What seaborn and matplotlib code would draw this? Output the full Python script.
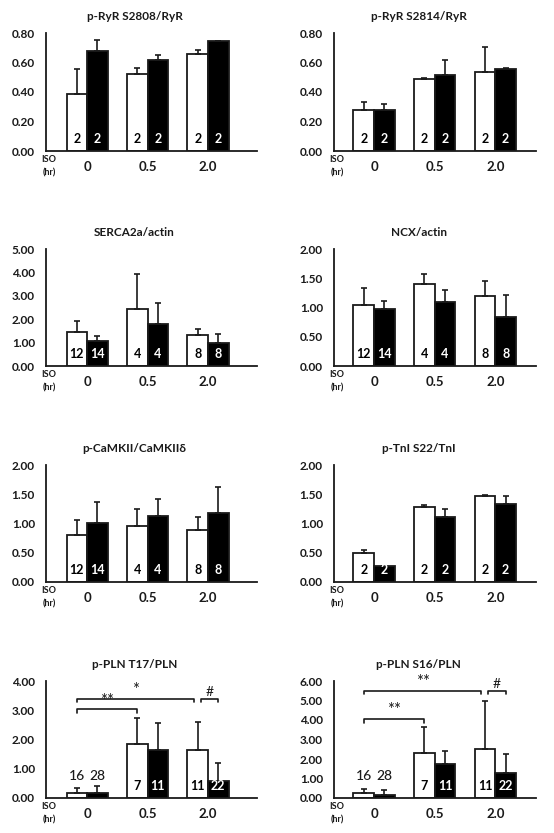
import numpy as np
import pandas as pd
import matplotlib
matplotlib.use('Agg')
import matplotlib.pyplot as plt
import seaborn as sns
from matplotlib.ticker import MultipleLocator, FormatStrFormatter

# categories
TIMES = ['0', '0.5', '2.0']
GROUPS = ['open', 'filled']

# panel data: [open bars, filled bars] per ISO time
RYR2808_MEAN = [[0.385, 0.52, 0.657], [0.68, 0.62, 0.745]]
RYR2808_ERR = [[0.17, 0.04, 0.03], [0.07, 0.03, 0.0]]
RYR2808_N = [[2, 2, 2], [2, 2, 2]]

RYR2814_MEAN = [[0.275, 0.49, 0.537], [0.275, 0.517, 0.558]]
RYR2814_ERR = [[0.055, 0.005, 0.17], [0.043, 0.10, 0.003]]
RYR2814_N = [[2, 2, 2], [2, 2, 2]]

SERCA_MEAN = [[1.44, 2.43, 1.33], [1.05, 1.79, 0.97]]
SERCA_ERR = [[0.49, 1.51, 0.26], [0.24, 0.90, 0.38]]
SERCA_N = [[12, 4, 8], [14, 4, 8]]

NCX_MEAN = [[1.04, 1.41, 1.20], [0.98, 1.10, 0.84]]
NCX_ERR = [[0.30, 0.17, 0.25], [0.13, 0.20, 0.38]]
NCX_N = [[12, 4, 8], [14, 4, 8]]

CAMKII_MEAN = [[0.795, 0.96, 0.886], [1.01, 1.125, 1.176]]
CAMKII_ERR = [[0.26, 0.29, 0.23], [0.36, 0.30, 0.45]]
CAMKII_N = [[12, 4, 8], [14, 4, 8]]

TNI_MEAN = [[0.494, 1.29, 1.47], [0.267, 1.108, 1.335]]
TNI_ERR = [[0.06, 0.02, 0.02], [0.01, 0.14, 0.14]]
TNI_N = [[2, 2, 2], [2, 2, 2]]

PLNT17_MEAN = [[0.16, 1.86, 1.65], [0.16, 1.63, 0.58]]
PLNT17_ERR = [[0.19, 0.89, 0.95], [0.25, 0.93, 0.62]]
PLNT17_N = [[16, 7, 11], [28, 11, 22]]
# (group, time) -> (group, time), bracket height, label
PLNT17_SIG = [((0, 0), (0, 2), 3.39, '*'), ((0, 0), (0, 1), 3.03, '**'), ((0, 2), (1, 2), 3.39, '#')]

PLNS16_MEAN = [[0.26, 2.33, 2.52], [0.17, 1.75, 1.26]]
PLNS16_ERR = [[0.20, 1.30, 2.45], [0.24, 0.65, 1.02]]
PLNS16_N = [[16, 7, 11], [28, 11, 22]]
PLNS16_SIG = [((0, 0), (0, 2), 5.50, '**'), ((0, 0), (0, 1), 4.05, '**'), ((0, 2), (1, 2), 5.50, '#')]

FONT = ['Lato', 'DejaVu Sans']
INK = '#1a1a1a'


def draw_panel(ax, title, means, errs, ns, ymax, ystep, xlim, sig=None, n_above=False):
    df = pd.DataFrame({'time': np.tile(TIMES, 2),
                       'group': np.repeat(GROUPS, 3),
                       'value': np.ravel(means)})
    sns.barplot(data=df, x='time', y='value', hue='group', order=TIMES, hue_order=GROUPS,
                palette=['white', 'black'], saturation=1, edgecolor=INK, linewidth=1.3,
                width=0.68, errorbar=None, legend=False, ax=ax)
    bar_groups = list(ax.containers)
    centers = {}
    for gi, cont in enumerate(bar_groups):
        for ti, (bar, err, n) in enumerate(zip(cont, errs[gi], ns[gi])):
            x = bar.get_x() + bar.get_width() / 2
            h = bar.get_height()
            centers[(gi, ti)] = x
            ax.errorbar(x, h, yerr=[[0], [err]], fmt='none', ecolor=INK, elinewidth=1.2,
                        capsize=2, capthick=1.2, zorder=3)
            if n_above and ti == 0:
                ax.text(x, ymax * 0.19, str(n), ha='center', va='center', fontsize=10,
                        fontweight='medium', color=INK, family=FONT)
            else:
                ax.text(x, ymax * 0.105, str(n), ha='center', va='center', fontsize=9,
                        fontweight='bold', color='black' if gi == 0 else 'white', family=FONT)
    if sig:
        drop = ymax * 0.03
        for a, b, y, lab in sig:
            x1, x2 = centers[a], centers[b]
            if lab == '#':
                x1 += 0.05
            elif b[1] == 2:
                x2 -= 0.06
            ax.plot([x1, x1, x2, x2], [y - drop, y, y, y - drop], color=INK, lw=1.2)
            ax.text((x1 + x2) / 2, y + ymax * 0.005, lab, ha='center', va='bottom',
                    fontsize=10 if lab == '#' else 12, color=INK, family=FONT)

    ax.set_xlim(*xlim)
    ax.set_ylim(0, ymax)
    ax.yaxis.set_major_locator(MultipleLocator(ystep))
    ax.yaxis.set_major_formatter(FormatStrFormatter('%.2f'))
    ax.set_xlabel('')
    ax.set_ylabel('')
    for s in ['top', 'right']:
        ax.spines[s].set_visible(False)
    for s in ['left', 'bottom']:
        ax.spines[s].set_color(INK)
        ax.spines[s].set_linewidth(1.3)
    ax.tick_params(axis='x', length=0, pad=7)
    ax.tick_params(axis='y', length=3, width=1.1, color=INK, pad=5)
    for lab in ax.get_yticklabels():
        lab.set_fontsize(8.5)
        lab.set_fontweight('bold')
        lab.set_color(INK)
    for lab in ax.get_xticklabels():
        lab.set_fontsize(9.5)
        lab.set_fontweight('bold')
        lab.set_color(INK)
    ax.text(0.42, 1 + 17 / 118, title, transform=ax.transAxes, ha='center', va='center',
            fontsize=8.5, fontweight='bold', color=INK)
    ax.text(0.015, -0.076, 'ISO', transform=ax.transAxes, ha='center', va='center',
            fontsize=6.5, fontweight='bold', color=INK)
    ax.text(0.015, -0.186, '(hr)', transform=ax.transAxes, ha='center', va='center',
            fontsize=6.5, fontweight='bold', color=INK)


def main():
    sns.set_style('white')
    plt.rcParams['font.family'] = FONT
    W, H = 554, 833
    fig = plt.figure(figsize=(W / 100, H / 100), dpi=100)
    cols = [(46, 257, (-0.68, 2.81)), (334, 536, (-0.66, 2.67))]
    rows = [(33, 151), (249, 366), (465, 582), (681, 798)]

    panels = [
        ('p-RyR S2808/RyR', RYR2808_MEAN, RYR2808_ERR, RYR2808_N, 0.8, 0.2, None),
        ('p-RyR S2814/RyR', RYR2814_MEAN, RYR2814_ERR, RYR2814_N, 0.8, 0.2, None),
        ('SERCA2a/actin', SERCA_MEAN, SERCA_ERR, SERCA_N, 5.0, 1.0, None),
        ('NCX/actin', NCX_MEAN, NCX_ERR, NCX_N, 2.0, 0.5, None),
        ('p-CaMKII/CaMKIIδ', CAMKII_MEAN, CAMKII_ERR, CAMKII_N, 2.0, 0.5, None),
        ('p-TnI S22/TnI', TNI_MEAN, TNI_ERR, TNI_N, 2.0, 0.5, None),
        ('p-PLN T17/PLN', PLNT17_MEAN, PLNT17_ERR, PLNT17_N, 4.0, 1.0, PLNT17_SIG),
        ('p-PLN S16/PLN', PLNS16_MEAN, PLNS16_ERR, PLNS16_N, 6.0, 1.0, PLNS16_SIG),
    ]
    for i, (title, means, errs, ns, ymax, ystep, sig) in enumerate(panels):
        x0, x1, xlim = cols[i % 2]
        top, bottom = rows[i // 2]
        ax = fig.add_axes([x0 / W, 1 - bottom / H, (x1 - x0) / W, (bottom - top) / H])
        draw_panel(ax, title, means, errs, ns, ymax, ystep, xlim, sig=sig, n_above=sig is not None)

    fig.savefig('out.png', dpi=100, facecolor='white')


if __name__ == '__main__':
    main()
